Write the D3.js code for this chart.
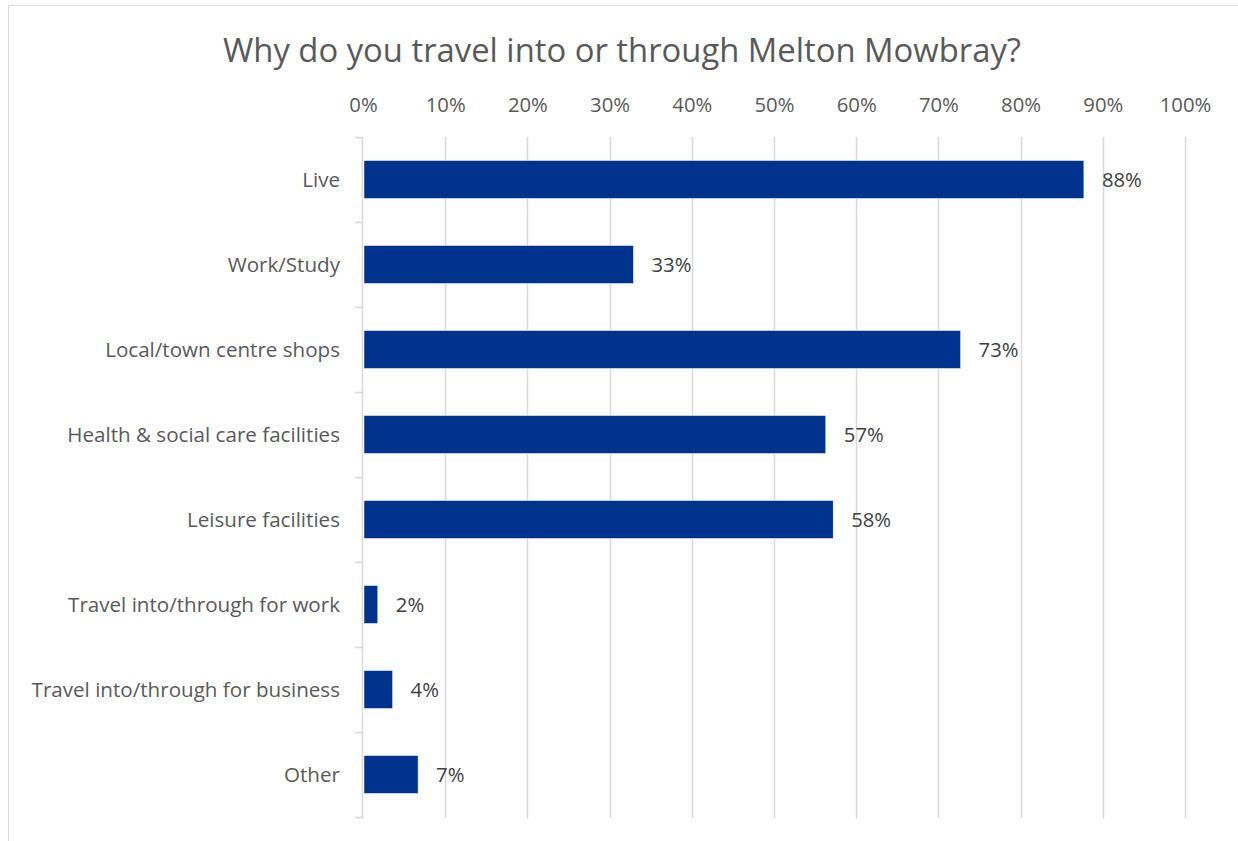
<!DOCTYPE html>
<html>
<head>
<meta charset="utf-8">
<script src="https://cdn.jsdelivr.net/npm/d3@7"></script>
<style>
  html, body { margin: 0; padding: 0; background: #fff; }
  svg { display: block; }
  text { font-family: "Open Sans", sans-serif; }
</style>
</head>
<body>
<svg id="chart" width="1238" height="841"></svg>
<script>
const title = "Why do you travel into or through Melton Mowbray?";
const categories = [
  "Live",
  "Work/Study",
  "Local/town centre shops",
  "Health & social care facilities",
  "Leisure facilities",
  "Travel into/through for work",
  "Travel into/through for business",
  "Other"
];
const values = [0.877, 0.329, 0.727, 0.563, 0.572, 0.018, 0.036, 0.067];
const valueLabels = ["88%", "33%", "73%", "57%", "58%", "2%", "4%", "7%"];
const tickValues = [0, 0.1, 0.2, 0.3, 0.4, 0.5, 0.6, 0.7, 0.8, 0.9, 1.0];

const svg = d3.select("#chart");

// chart border (cropped on right/bottom)
svg.append("rect")
  .attr("x", 8.5).attr("y", 5.5)
  .attr("width", 1300).attr("height", 900)
  .attr("fill", "#fff").attr("stroke", "#d9d9d9").attr("stroke-width", 1);

const x = d3.scaleLinear().domain([0, 1]).range([363, 1185]);
const y = d3.scaleBand().domain(categories).range([137, 817]).padding(0);
const step = y.step();
const barH = step * 0.447;
const barOff = (step - barH) / 2;

// title
svg.append("text")
  .attr("x", 622).attr("y", 62)
  .attr("text-anchor", "middle")
  .attr("font-size", 32.8)
  .attr("fill", "#595959")
  .text(title);

// gridlines
svg.append("g")
  .selectAll("line")
  .data(tickValues.slice(1))
  .join("line")
  .attr("x1", d => Math.round(x(d)) + 0.5)
  .attr("x2", d => Math.round(x(d)) + 0.5)
  .attr("y1", 137).attr("y2", 818)
  .attr("stroke", "#d9d9d9").attr("stroke-width", 1.5);

// top axis (labels only)
const xAxis = d3.axisTop(x)
  .tickValues(tickValues)
  .tickFormat(d3.format(".0%"))
  .tickSize(0)
  .tickPadding(0);
const gx = svg.append("g").attr("transform", "translate(0,112)").call(xAxis);
gx.select(".domain").remove();
gx.selectAll("text")
  .attr("font-size", 20.3)
  .attr("font-family", "Open Sans, sans-serif")
  .attr("fill", "#595959")
  .attr("dy", 0);

// left axis line with ticks at band boundaries
const gy = svg.append("g");
gy.append("line")
  .attr("x1", 362.5).attr("x2", 362.5)
  .attr("y1", 137).attr("y2", 818)
  .attr("stroke", "#d9d9d9").attr("stroke-width", 1.5);
const boundaries = categories.map(c => y(c)).concat([y(categories[categories.length - 1]) + step]);
gy.selectAll("line.tick")
  .data(boundaries)
  .join("line")
  .attr("class", "tick")
  .attr("x1", 355).attr("x2", 363)
  .attr("y1", d => Math.round(d) + 0.5)
  .attr("y2", d => Math.round(d) + 0.5)
  .attr("stroke", "#d9d9d9").attr("stroke-width", 1.5);

// category labels
svg.append("g")
  .selectAll("text")
  .data(categories)
  .join("text")
  .attr("x", 340)
  .attr("y", d => y(d) + step / 2)
  .attr("dy", "0.35em")
  .attr("text-anchor", "end")
  .attr("font-size", 20.6)
  .attr("fill", "#595959")
  .text(d => d);

// bars
svg.append("g")
  .selectAll("rect")
  .data(categories.map((c, i) => ({ c, v: values[i], l: valueLabels[i] })))
  .join("rect")
  .attr("x", x(0) + 1)
  .attr("y", d => y(d.c) + barOff)
  .attr("width", d => x(d.v) - x(0) - 1)
  .attr("height", barH)
  .attr("fill", "#00338d")
  .attr("stroke", "#ffffff").attr("stroke-width", 0.5);

// data labels
svg.append("g")
  .selectAll("text")
  .data(categories.map((c, i) => ({ c, v: values[i], l: valueLabels[i] })))
  .join("text")
  .attr("x", d => x(d.v) + 18)
  .attr("y", d => y(d.c) + step / 2)
  .attr("dy", "0.35em")
  .attr("font-size", 20.3)
  .attr("fill", "#404040")
  .text(d => d.l);
</script>
</body>
</html>
